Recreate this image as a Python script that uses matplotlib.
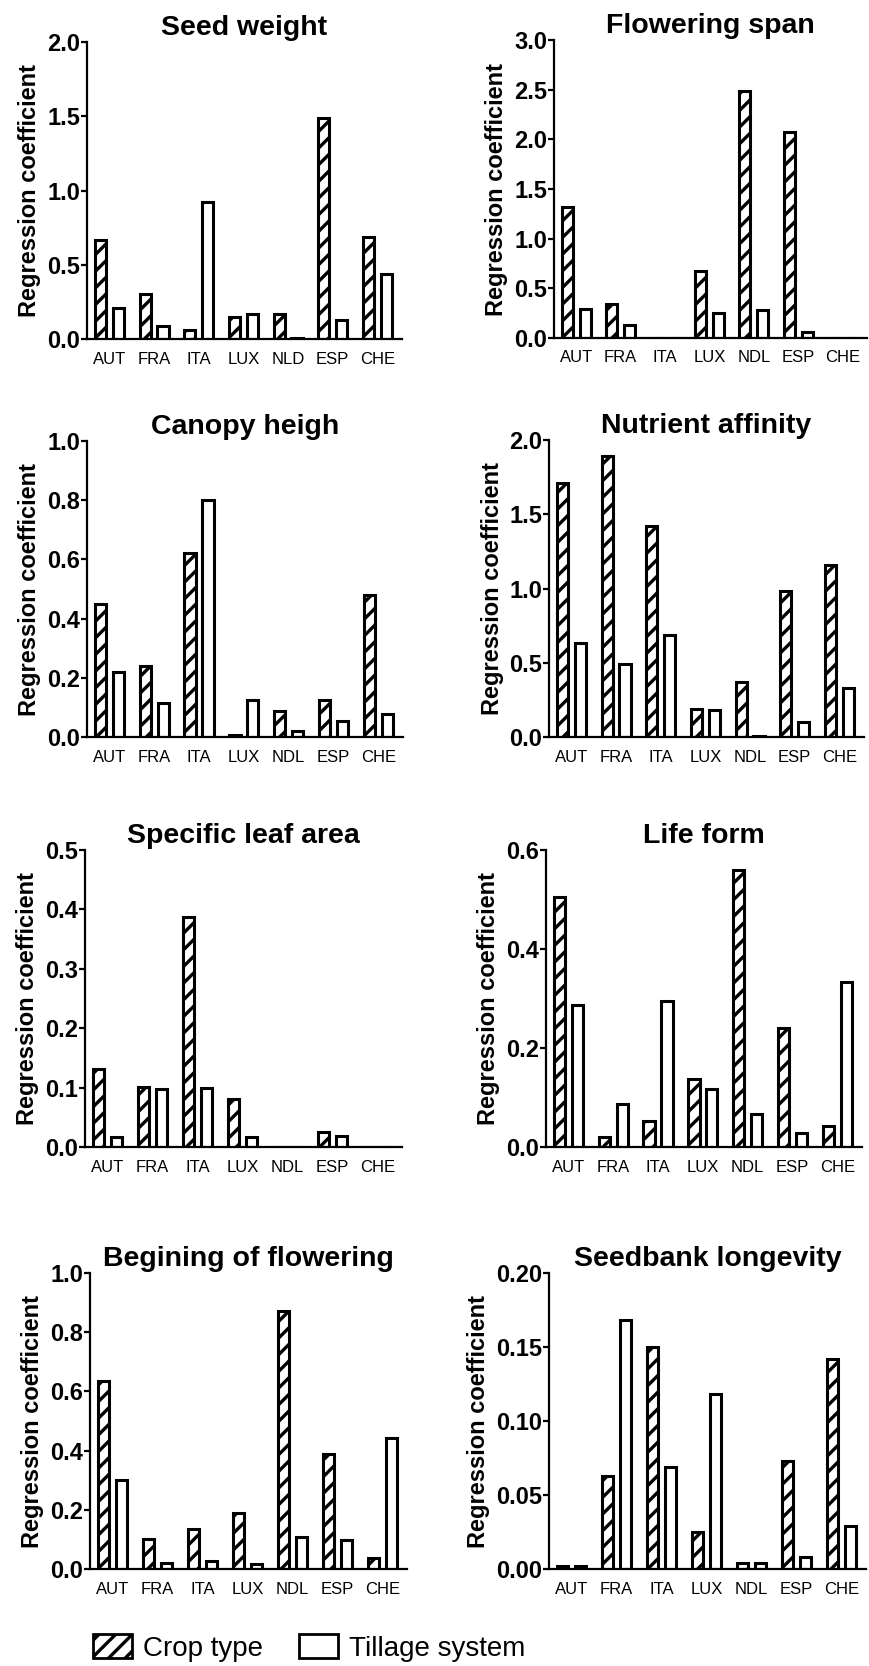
import numpy as np
import matplotlib.pyplot as plt
from matplotlib.patches import Patch

plt.rcParams['font.family'] = ['Liberation Sans', 'DejaVu Sans']
plt.rcParams['hatch.linewidth'] = 2.4

countries = ['AUT', 'FRA', 'ITA', 'LUX', 'NDL', 'ESP', 'CHE']
countries_sw = ['AUT', 'FRA', 'ITA', 'LUX', 'NLD', 'ESP', 'CHE']

# regression coefficients, crop type (hatched) and tillage system (open)
seed_weight_crop = [0.67, 0.30, 0.06, 0.15, 0.17, 1.49, 0.69]
seed_weight_till = [0.21, 0.09, 0.92, 0.17, 0.01, 0.13, 0.44]

flowering_span_crop = [1.32, 0.34, 0.0, 0.67, 2.49, 2.07, 0.0]
flowering_span_till = [0.29, 0.13, 0.0, 0.25, 0.28, 0.06, 0.0]

canopy_crop = [0.45, 0.24, 0.62, 0.006, 0.087, 0.124, 0.48]
canopy_till = [0.22, 0.115, 0.80, 0.126, 0.019, 0.053, 0.079]

nutrient_crop = [1.71, 1.89, 1.42, 0.19, 0.37, 0.98, 1.16]
nutrient_till = [0.63, 0.49, 0.69, 0.18, 0.007, 0.10, 0.33]

sla_crop = [0.132, 0.101, 0.388, 0.080, 0.0, 0.026, 0.0]
sla_till = [0.017, 0.098, 0.099, 0.017, 0.0, 0.019, 0.0]

life_form_crop = [0.506, 0.020, 0.053, 0.137, 0.560, 0.241, 0.042]
life_form_till = [0.286, 0.087, 0.295, 0.117, 0.067, 0.028, 0.334]

flowering_start_crop = [0.636, 0.100, 0.134, 0.190, 0.873, 0.388, 0.036]
flowering_start_till = [0.301, 0.019, 0.028, 0.016, 0.109, 0.098, 0.444]

seedbank_crop = [0.002, 0.063, 0.150, 0.025, 0.004, 0.073, 0.142]
seedbank_till = [0.002, 0.168, 0.069, 0.118, 0.004, 0.008, 0.029]

panels = [
    ('Seed weight', countries_sw, seed_weight_crop, seed_weight_till, np.arange(0, 2.01, 0.5), '%.1f', (87, 42, 402, 339)),
    ('Flowering span', countries, flowering_span_crop, flowering_span_till, np.arange(0, 3.01, 0.5), '%.1f', (554, 40, 867, 338)),
    ('Canopy heigh', countries, canopy_crop, canopy_till, np.arange(0, 1.01, 0.2), '%.1f', (87, 441, 403, 737)),
    ('Nutrient affinity', countries, nutrient_crop, nutrient_till, np.arange(0, 2.01, 0.5), '%.1f', (549, 440, 864, 737)),
    ('Specific leaf area', countries, sla_crop, sla_till, np.arange(0, 0.51, 0.1), '%.1f', (85, 850, 402, 1147)),
    ('Life form', countries, life_form_crop, life_form_till, np.arange(0, 0.61, 0.2), '%.1f', (546, 850, 862, 1147)),
    ('Begining of flowering', countries, flowering_start_crop, flowering_start_till, np.arange(0, 1.01, 0.2), '%.1f', (90, 1273, 407, 1569)),
    ('Seedbank longevity', countries, seedbank_crop, seedbank_till, np.arange(0, 0.201, 0.05), '%.2f', (549, 1273, 866, 1569)),
]

W, H = 869, 1666
fig = plt.figure(figsize=(W / 100, H / 100), dpi=100)

width = 0.25
off = 0.2
for title, labels, crop, till, yt, fmt, (l, t, r, b) in panels:
    ax = fig.add_axes([l / W, 1 - b / H, (r - l) / W, (b - t) / H])
    x = np.arange(len(labels))
    ax.bar(x - off, crop, width, facecolor='white', edgecolor='black', hatch='//', linewidth=2.2)
    ax.bar(x + off, till, width, facecolor='white', edgecolor='black', linewidth=2.2)
    ax.set_xlim(-0.5, 6.55)
    ax.set_ylim(0, yt[-1])
    ax.set_yticks(yt)
    ax.set_yticklabels([fmt % v for v in yt], fontsize=17, fontweight='bold')
    ax.set_xticks(x)
    ax.set_xticklabels(labels, fontsize=12)
    ax.tick_params(axis='x', length=0, pad=9)
    ax.tick_params(axis='y', length=4, width=1.6, pad=1)
    for s in ['top', 'right']:
        ax.spines[s].set_visible(False)
    for s in ['left', 'bottom']:
        ax.spines[s].set_linewidth(1.6)
    ax.set_title(title, fontsize=20.5, fontweight='bold', pad=5)
    ax.set_ylabel('Regression coefficient', fontsize=17, fontweight='bold', labelpad=4)

handles = [Patch(facecolor='white', edgecolor='black', hatch='//', linewidth=2),
           Patch(facecolor='white', edgecolor='black', linewidth=2)]
fig.legend(handles, ['Crop type', 'Tillage system'], loc='center left',
           bbox_to_anchor=(93 / W, 1 - 1648 / H), ncol=2, frameon=False,
           fontsize=20, handlelength=1.4, handleheight=0.95, handletextpad=0.4,
           columnspacing=1.3, borderpad=0, borderaxespad=0)

fig.savefig('out.png', dpi=100)
